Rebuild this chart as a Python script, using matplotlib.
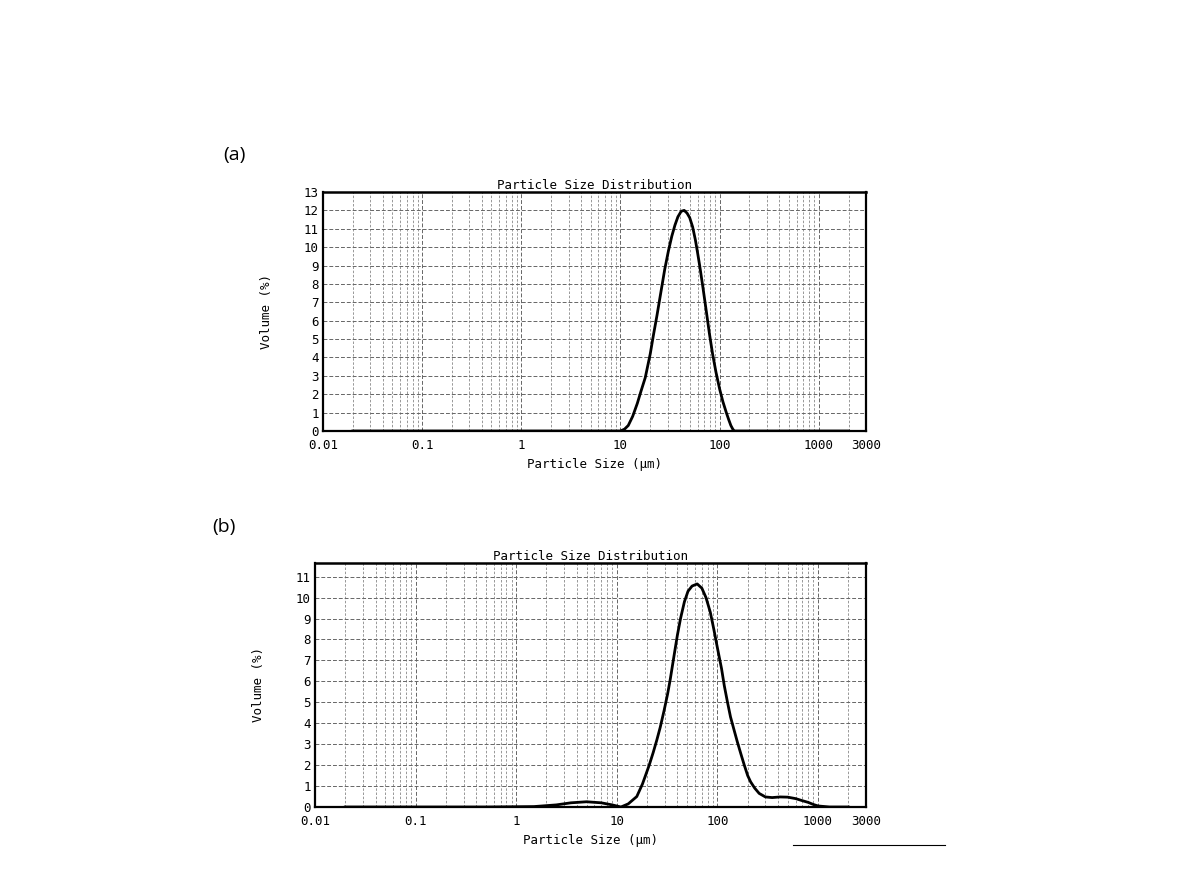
import numpy as np
import matplotlib
matplotlib.use("Agg")
import matplotlib.pyplot as plt
from matplotlib.lines import Line2D
from matplotlib.ticker import LogLocator, FixedLocator, NullFormatter

# --- data ---
size_a = [0.02, 1, 8, 10, 11, 12, 13.3, 14.8, 16.2, 17.8, 20, 21.5, 23.4, 25.5,
          28, 30.5, 33, 35.5, 38, 41, 44, 47, 50, 53.5, 57, 60, 63, 68, 74, 79,
          85, 92, 100, 108, 117, 124, 130, 136, 141, 500, 2000]
vol_a = [0, 0, 0, 0, 0.1, 0.3, 0.8, 1.5, 2.2, 2.9, 4.2, 5.2, 6.3, 7.5,
         8.8, 9.8, 10.6, 11.2, 11.65, 11.95, 12.0, 11.85, 11.6, 11.1, 10.4, 9.7, 9.0, 7.8, 6.4, 5.3,
         4.2, 3.2, 2.3, 1.6, 1.0, 0.6, 0.3, 0.1, 0, 0, 0]

size_b = [0.02, 0.5, 1.5, 2.5, 3.5, 5, 7, 9, 11, 13, 15.8, 18, 21, 23, 25, 27,
          29.5, 32, 34, 37, 40, 43, 47, 51, 56, 63, 70, 77, 85, 92, 100, 110,
          117, 126, 135, 146, 158, 172, 185, 200, 214, 235, 260, 300, 350, 420,
          500, 600, 700, 800, 900, 1000, 1300, 2000]
vol_b = [0, 0, 0.02, 0.1, 0.2, 0.25, 0.2, 0.1, 0, 0.15, 0.5, 1.1, 2.0, 2.6, 3.2, 3.8,
         4.6, 5.4, 6.1, 7.2, 8.2, 9.0, 9.8, 10.3, 10.55, 10.65, 10.45, 10.0, 9.3, 8.5, 7.6, 6.6,
         5.8, 5.0, 4.3, 3.7, 3.1, 2.5, 2.0, 1.5, 1.2, 0.9, 0.65, 0.48, 0.45, 0.48,
         0.47, 0.4, 0.3, 0.22, 0.12, 0.05, 0, 0]

xticks = [0.01, 0.1, 1, 10, 100, 1000, 3000]
xtick_labels = ["0.01", "0.1", "1", "10", "100", "1000", "3000"]

MONO = "DejaVu Sans Mono"

fig = plt.figure(figsize=(11.9, 8.91), dpi=100)


def draw_panel(rect, sizes, vols, ymax, yticks, letter, letter_xy):
    ax = fig.add_axes(rect)
    ax.set_xscale("log")
    ax.set_xlim(0.01, 3000)
    ax.set_ylim(0, ymax)
    ax.xaxis.set_major_locator(FixedLocator(xticks))
    ax.set_xticklabels(xtick_labels, fontfamily=MONO, fontsize=9)
    ax.xaxis.set_minor_locator(LogLocator(base=10, subs=np.arange(2, 10)))
    ax.xaxis.set_minor_formatter(NullFormatter())
    ax.set_yticks(yticks)
    ax.set_yticklabels([str(v) for v in yticks], fontfamily=MONO, fontsize=9)
    ax.tick_params(which="both", length=0)
    ax.tick_params(axis="y", pad=3)
    ax.tick_params(axis="x", pad=6)

    ax.grid(True, which="major", color="#666666", linestyle=(0, (4, 2)), linewidth=0.7)
    ax.grid(True, which="minor", axis="x", color="#888888", linestyle=(0, (3, 2)), linewidth=0.6)

    ax.plot(sizes, vols, color="black", linewidth=2.0)

    for side in ["left", "bottom", "right"]:
        ax.spines[side].set_linewidth(1.6)
    ax.spines["top"].set_linewidth(1.8)

    ax.set_title("Particle Size Distribution", fontfamily=MONO, fontsize=9, pad=1)
    ax.set_xlabel("Particle Size (\u00b5m)", fontfamily=MONO, fontsize=9, labelpad=4)
    ax.set_ylabel("Volume (%)", fontfamily=MONO, fontsize=9, labelpad=22)

    fig.text(letter_xy[0], letter_xy[1], letter, fontsize=14, family="Open Sans",
             ha="left", va="center")
    return ax


draw_panel([323 / 1190, 1 - 431 / 891, 543 / 1190, 239 / 891],
           size_a, vol_a, 13, list(range(0, 14)), "(a)", (223 / 1190, 1 - 155 / 891))
draw_panel([315 / 1190, 1 - 807 / 891, 551 / 1190, 244 / 891],
           size_b, vol_b, 11.65, list(range(0, 12)), "(b)", (212 / 1190, 1 - 527 / 891))

# stray rule from the scanned page
fig.add_artist(Line2D([793 / 1190, 945 / 1190], [1 - 845 / 891, 1 - 845 / 891],
                      color="black", linewidth=0.8))

fig.savefig("out.png", dpi=100)
